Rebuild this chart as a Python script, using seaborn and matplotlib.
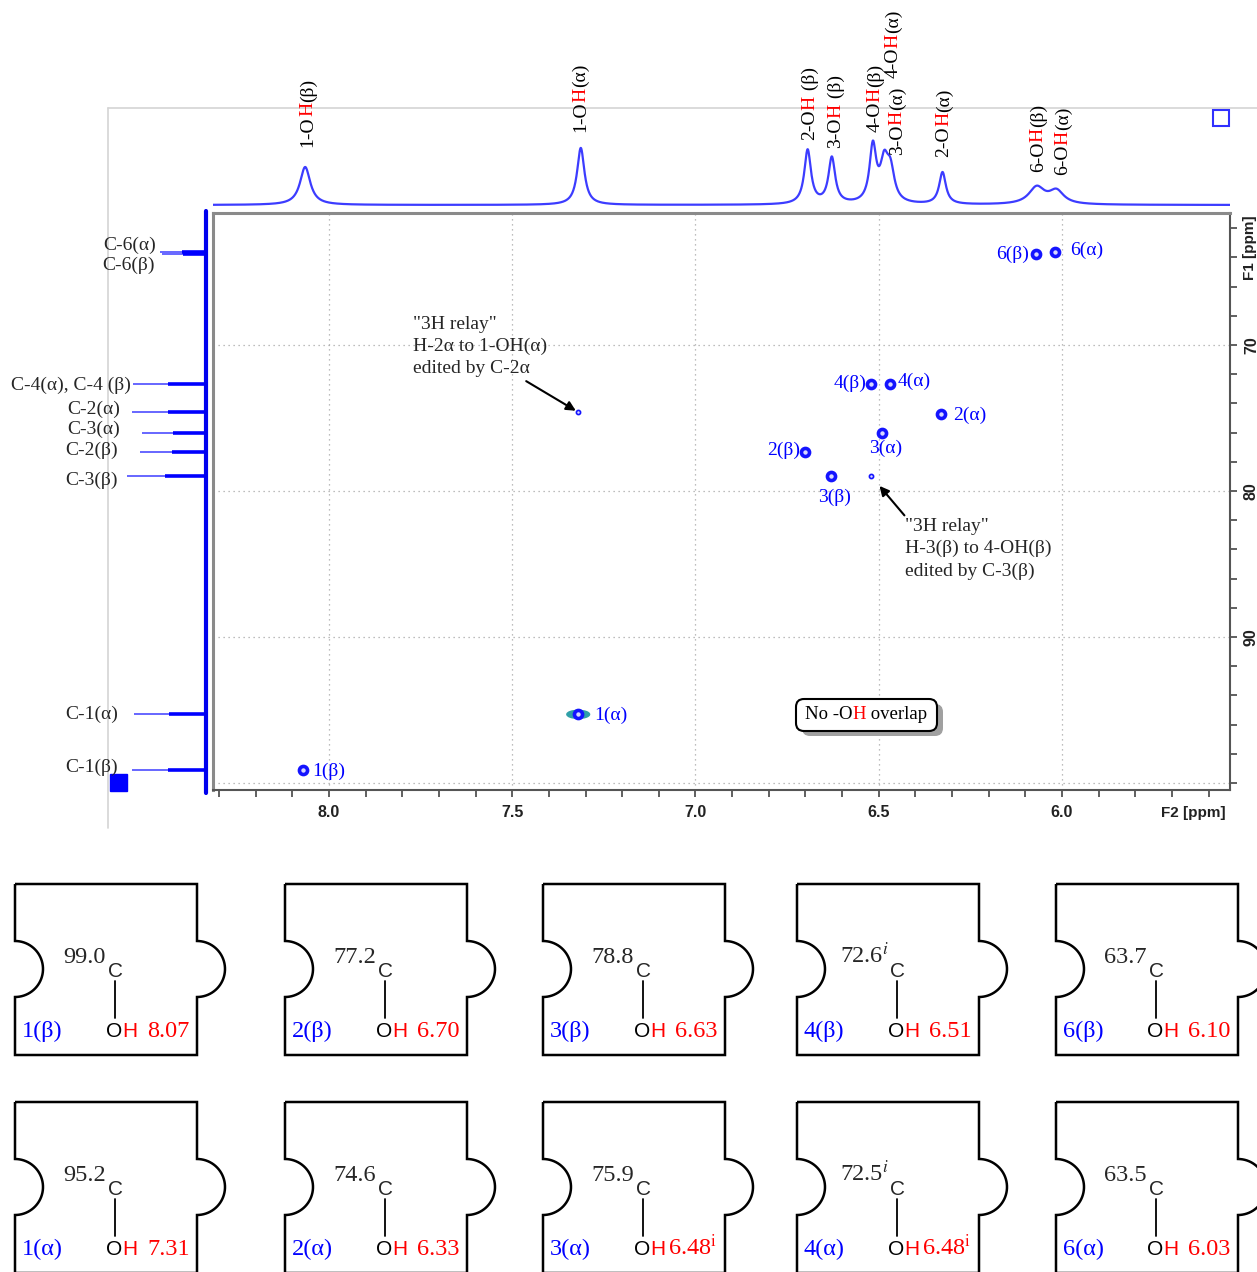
import numpy as np
import pandas as pd
import seaborn as sns
import matplotlib.pyplot as plt
from matplotlib.patches import PathPatch, FancyBboxPatch, Rectangle, Ellipse
from matplotlib.path import Path

# ---- values ----
# 2D cross peaks: F2 = OH proton shift, F1 = carbon shift
peak_names = ['1(β)', '1(α)', '2(β)', '2(α)', '3(β)', '3(α)', '4(β)', '4(α)', '6(β)', '6(α)']
peak_f2 = [8.07, 7.32, 6.70, 6.33, 6.63, 6.49, 6.52, 6.47, 6.07, 6.02]
peak_f1 = [99.1, 95.3, 77.3, 74.7, 79.0, 76.0, 72.7, 72.7, 63.8, 63.6]

# weak "3H relay" peaks
relay_f2 = [7.32, 6.52]
relay_f1 = [74.6, 79.0]

# 1H projection (top)
oh_labels = ['1-OH(β)', '1-OH(α)', '2-OH (β)', '3-OH (β)', '4-OH(β)', '3-OH(α)', '4-OH(α)',
             '2-OH(α)', '6-OH(β)', '6-OH(α)']
oh_ppm = [8.065, 7.313, 6.694, 6.628, 6.516, 6.485, 6.468, 6.326, 6.069, 6.015]
oh_height = [38, 57, 54, 46, 56, 37, 30, 32, 17, 13]
oh_hwhm = [0.017, 0.012, 0.011, 0.011, 0.011, 0.013, 0.013, 0.011, 0.026, 0.024]

# 13C projection (left)
c_labels = ['C-6(α)', 'C-6(β)', 'C-4(α), C-4 (β)', 'C-2(α)', 'C-3(α)', 'C-2(β)', 'C-3(β)',
            'C-1(α)', 'C-1(β)']
c_ppm = [63.6, 63.8, 72.7, 74.6, 76.0, 77.35, 79.0, 95.3, 99.1]
c_height = [46, 44, 73, 74, 64, 66, 79, 72, 74]

# puzzle pieces
beta_names = ['1(β)', '2(β)', '3(β)', '4(β)', '6(β)']
beta_c = ['99.0', '77.2', '78.8', '72.6$^{i}$', '63.7']
beta_oh = ['8.07', '6.70', '6.63', '6.51', '6.10']
alpha_names = ['1(α)', '2(α)', '3(α)', '4(α)', '6(α)']
alpha_c = ['95.2', '74.6', '75.9', '72.5$^{i}$', '63.5']
alpha_oh = ['7.31', '6.33', '6.48$^{\\mathrm{i}}$', '6.48$^{\\mathrm{i}}$', '6.03']

# ---- style ----
sns.set_style('white')
SERIF = ['Liberation Serif', 'DejaVu Serif']
SANS = ['Liberation Sans', 'DejaVu Sans']
plt.rcParams['font.family'] = SERIF
plt.rcParams['mathtext.fontset'] = 'stix'

BLUE = '#1414ff'
RED = '#ff0000'
W, H = 1257, 1272
fig = plt.figure(figsize=(W / 100, H / 100), dpi=100)


def px_axes(x0, y0, x1, y1):
    return fig.add_axes([x0 / W, 1 - y1 / H, (x1 - x0) / W, (y1 - y0) / H])


def multicolor(axis, x, y, parts, rotation=0, **kw):
    s, c = parts[0]
    if rotation:
        t = axis.text(x, y, s, color=c, rotation=90, ha='center', va='bottom', **kw)
        for s, c in parts[1:]:
            t = axis.annotate(s, xy=(0.5, 1), xycoords=t, color=c, rotation=90,
                              ha='center', va='bottom', **kw)
    else:
        t = axis.text(x, y, s, color=c, ha='left', va='baseline', **kw)
        for s, c in parts[1:]:
            t = axis.annotate(s, xy=(1, 0), xycoords=t, color=c, ha='left', va='bottom', **kw)
    return t


F2_LIM = (8.3165, 5.5416)
F1_LIM = (100.48, 60.96)

# background frame (drawn first, under everything)
bg = fig.add_axes([0, 0, 1, 1])
bg.set_xlim(0, W)
bg.set_ylim(H, 0)
bg.axis('off')
bg.plot([108, 1257], [108, 108], color='#d4d4d4', lw=1.2)
bg.plot([108, 108], [108, 828], color='#d4d4d4', lw=1.2)

# ---- main 2D spectrum ----
ax = px_axes(213, 213, 1230, 790)
peaks = pd.DataFrame({'f2': peak_f2, 'f1': peak_f1, 'name': peak_names})
relay = pd.DataFrame({'f2': relay_f2, 'f1': relay_f1})

one_a = peaks[peaks['name'] == '1(α)'].iloc[0]
ax.add_patch(Ellipse((one_a['f2'], one_a['f1']), 0.062, 0.55, color='#2fa0a8', zorder=2))
sns.scatterplot(data=peaks, x='f2', y='f1', ax=ax, s=34, marker='o', color='#d8d8ff',
                edgecolor=BLUE, linewidth=2.6, legend=False, zorder=3)
sns.scatterplot(data=relay, x='f2', y='f1', ax=ax, s=9, marker='o', color='#d8d8ff',
                edgecolor=BLUE, linewidth=1.2, legend=False, zorder=3)

label_offset = {'1(β)': (9, -1, 'left'), '1(α)': (16, -1, 'left'), '2(β)': (-5, 1, 'right'),
                '2(α)': (12, -2, 'left'), '3(β)': (3, -21, 'center'), '3(α)': (3, -16, 'center'),
                '4(β)': (-5, 1, 'right'), '4(α)': (8, 3, 'left'), '6(β)': (-7, 0, 'right'),
                '6(α)': (15, 1, 'left')}
for _, r in peaks.iterrows():
    dx, dy, ha = label_offset[r['name']]
    ax.annotate(r['name'], xy=(r['f2'], r['f1']), xytext=(dx, dy), textcoords='offset pixels',
                ha=ha, va='center', color='#0000ff', fontsize=14)

arrow = dict(arrowstyle='-|>', color='k', lw=1.5, mutation_scale=14, shrinkA=0)
ax.annotate('', xy=(relay_f2[0], relay_f1[0]), xytext=(-52, 31), textcoords='offset pixels',
            arrowprops=dict(arrow, shrinkB=2))
ax.annotate('', xy=(relay_f2[1], relay_f1[1]), xytext=(33, -39), textcoords='offset pixels',
            arrowprops=dict(arrow, shrinkB=9))

ax.set_xlim(*F2_LIM)
ax.set_ylim(*F1_LIM)
ax.set_xlabel('')
ax.set_ylabel('')
ax.set_xticks([8.0, 7.5, 7.0, 6.5, 6.0])
ax.set_xticklabels(['8.0', '7.5', '7.0', '6.5', '6.0'])
ax.set_xticks(np.arange(5.6, 8.35, 0.1), minor=True)
ax.yaxis.tick_right()
ax.set_yticks([70, 80, 90])
ax.set_yticklabels(['70', '80', '90'], rotation=90, va='center')
ax.set_yticks(np.arange(62, 101, 2), minor=True)
ax.tick_params(axis='x', which='both', direction='out', length=5, width=1.2, color='#444444',
               bottom=True, top=False, labelsize=11.5, pad=6)
ax.tick_params(axis='y', which='both', direction='out', length=5, width=1.2, color='#444444',
               right=True, left=False, labelright=True, labelleft=False, labelsize=11.5, pad=5)
for t in ax.get_xticklabels() + ax.get_yticklabels():
    t.set_fontfamily(SANS)
    t.set_fontweight('bold')
    t.set_color('#222222')
ax.grid(True, which='major', ls=(0, (1, 3)), color='#a8a8a8', lw=0.9)
ax.axhline(100, ls=(0, (1, 3)), color='#a8a8a8', lw=0.9)
for side, s in ax.spines.items():
    s.set_visible(True)
    if side in ('left', 'top'):
        s.set_color('#8a8a8a')
        s.set_linewidth(2.2)
    else:
        s.set_color('#555555')
        s.set_linewidth(1.5)

# ---- 1H projection ----
ax_top = px_axes(213, 100, 1230, 210)
ppm_axis = np.linspace(F2_LIM[0], F2_LIM[1], 4000)
intensity = np.zeros_like(ppm_axis)
for p, h, w in zip(oh_ppm, oh_height, oh_hwhm):
    intensity += h / (1 + ((ppm_axis - p) / w) ** 2)
spec = pd.DataFrame({'ppm': ppm_axis, 'intensity': intensity})
sns.lineplot(data=spec, x='ppm', y='intensity', ax=ax_top, color='#3c3cff', lw=1.6,
             estimator=None, sort=False)
ax_top.set_xlim(*F2_LIM)
ax_top.set_ylim(-5, 105)
ax_top.axis('off')

oh_label_x = [8.057, 7.313, 6.688, 6.617, 6.51, 6.45, 6.461, 6.322, 6.065, 5.997]
oh_label_bottom = [147, 132, 140, 148, 132, 155, 78, 157, 172, 175]  # pixel rows
for lab, x, yb in zip(oh_labels, oh_label_x, oh_label_bottom):
    a, b = lab.split('H', 1)
    multicolor(ax_top, x, 205 - yb, [(a, 'k'), ('H', RED), (b, 'k')], rotation=90, fontsize=14)

# ---- 13C projection ----
ax_left = px_axes(100, 213, 210, 790)
ax_left.hlines(c_ppm, 0, c_height, color='#5a5aff', lw=1.3)
ax_left.hlines(c_ppm, 0, [h * 0.52 for h in c_height], color='#0000ff', lw=2.6)
ax_left.plot([0, 0], [60.8, 100.7], color='#0000ee', lw=3, clip_on=False)
ax_left.set_xlim(106, -4)
ax_left.set_ylim(*F1_LIM)
ax_left.axis('off')

# ---- overlay in pixel coordinates ----
ov = fig.add_axes([0, 0, 1, 1])
ov.set_xlim(0, W)
ov.set_ylim(H, 0)
ov.axis('off')

ov.add_patch(Rectangle((1213, 110), 16, 16, fill=False, edgecolor='#3030ff', lw=1.5))
ov.add_patch(Rectangle((110, 774), 17, 17, color='#0000ff'))

c_label_pos = [(156, 245), (155, 265), (131, 385), (120, 409), (120, 429), (118, 450),
               (118, 480), (118, 714), (118, 767)]
for lab, (x, y) in zip(c_labels, c_label_pos):
    ov.text(x, y, lab, ha='right', va='center', fontsize=14)

ov.text(1193, 813, 'F2 [ppm]', ha='center', va='center', fontsize=11, fontweight='bold',
        family=SANS, color='#222222')
ov.text(1250, 248, 'F1 [ppm]', ha='center', va='center', rotation=90, fontsize=11,
        fontweight='bold', family=SANS, color='#222222')

ov.text(413, 316, '"3H relay"\nH-2α to 1-OH(α)\nedited by C-2α', ha='left', va='top',
        fontsize=14, linespacing=1.38)
ov.text(905, 518, '"3H relay"\nH-3(β) to 4-OH(β)\nedited by C-3(β)', ha='left', va='top',
        fontsize=14, linespacing=1.38)

ov.add_patch(FancyBboxPatch((802, 704), 141, 32, boxstyle='round,pad=0,rounding_size=8',
                            facecolor='#a0a0a0', edgecolor='none'))
ov.add_patch(FancyBboxPatch((796, 699), 141, 32, boxstyle='round,pad=0,rounding_size=8',
                            facecolor='white', edgecolor='k', lw=1.5))
multicolor(ov, 805, 719, [('No -O', 'k'), ('H', RED), (' overlap', 'k')], fontsize=13.5)

# ---- puzzle pieces ----
PIECE_LEFT = [15, 285, 543, 797, 1056]
ROW_TOP = [884, 1102]
PW, PH, R, CY = 182, 171, 28, 85


def piece(L, T):
    Rr, B, cy = L + PW, T + PH, T + CY
    t = np.linspace(0, np.pi, 40)
    verts = [(L, T), (Rr, T), (Rr, cy - R)]
    verts += list(zip(Rr + R * np.sin(t), cy - R * np.cos(t)))
    verts += [(Rr, B), (L, B), (L, cy + R)]
    verts += list(zip(L + R * np.sin(t), cy + R * np.cos(t)))
    verts += [(L, T)]
    ov.add_patch(PathPatch(Path(verts), facecolor='none', edgecolor='k', lw=1.8,
                           joinstyle='miter'))


rows = [(beta_names, beta_c, beta_oh), (alpha_names, alpha_c, alpha_oh)]
for T, (names, cs, ohs) in zip(ROW_TOP, rows):
    for L, name, cval, ohval in zip(PIECE_LEFT, names, cs, ohs):
        piece(L, T)
        ov.text(L + (92 if '$' in cval else 91), T + 79, cval, ha='right', va='baseline',
                fontsize=17.5)
        ov.text(L + 93, T + 93, 'C', ha='left', va='baseline', fontsize=15, family=SANS)
        ov.plot([L + 100, L + 100], [T + 97, T + 134], color='k', lw=1.3)
        multicolor(ov, L + 91, T + 153, [('O', 'k'), ('H', RED)], fontsize=15, family=SANS)
        ov.text(L + (125 if '$' in ohval else 132), T + 153, ohval, ha='left', va='baseline',
                color=RED, fontsize=17.5)
        ov.text(L + 7, T + 153, name, ha='left', va='baseline', color='#0000ff', fontsize=17.5)

fig.savefig('out.png', dpi=100)
